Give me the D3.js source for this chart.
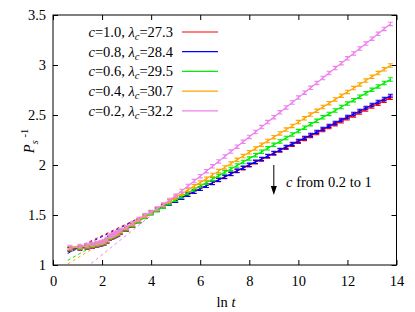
<!DOCTYPE html>
<html>
<head>
<meta charset="utf-8">
<script src="https://cdn.jsdelivr.net/npm/d3@7"></script>
<style>
  body { margin: 0; background: #fff; }
  svg text { font-family: "Liberation Serif", "Times New Roman", Times, "DejaVu Serif", serif; }
</style>
</head>
<body>
<div id="root"></div>
<script>
// ln t of each measured point (integer t at first, then log-spaced)
const lnT = [0.69, 1.10, 1.39, 1.61, 1.79, 1.95, 2.08, 2.20, 2.30, 2.40, 2.48, 2.56, 2.64,
  2.75, 3.00, 3.25, 3.50, 3.75, 4.00,
  4.25, 4.50, 4.75, 5.00, 5.25, 5.50, 5.75, 6.00, 6.25, 6.50, 6.75, 7.00, 7.25, 7.50, 7.75,
  8.00, 8.25, 8.50, 8.75, 9.00, 9.25, 9.50, 9.75, 10.00, 10.25, 10.50, 10.75, 11.00, 11.25,
  11.50, 11.75, 12.00, 12.25, 12.50, 12.75, 13.00, 13.25, 13.50, 13.75];

// P_s^-1 for each c
const yC10 = [1.155, 1.165, 1.175, 1.185, 1.195, 1.205, 1.215, 1.235, 1.265, 1.275, 1.285, 1.295, 1.305,
  1.325, 1.355, 1.395, 1.44, 1.485, 1.528,
  1.558, 1.587, 1.616, 1.646, 1.675, 1.704, 1.733, 1.763, 1.792, 1.821, 1.851, 1.880, 1.909, 1.939, 1.968,
  1.997, 2.027, 2.056, 2.085, 2.115, 2.144, 2.173, 2.203, 2.232, 2.261, 2.291, 2.320, 2.349, 2.379,
  2.408, 2.437, 2.467, 2.496, 2.525, 2.555, 2.584, 2.613, 2.643, 2.672];
const yC08 = [1.16, 1.17, 1.18, 1.19, 1.20, 1.21, 1.22, 1.24, 1.27, 1.28, 1.29, 1.30, 1.31,
  1.33, 1.36, 1.40, 1.44, 1.485, 1.523,
  1.553, 1.583, 1.613, 1.643, 1.672, 1.702, 1.732, 1.762, 1.792, 1.822, 1.852, 1.882, 1.912, 1.942, 1.972,
  2.002, 2.032, 2.061, 2.091, 2.121, 2.151, 2.181, 2.211, 2.241, 2.271, 2.301, 2.331, 2.361, 2.391,
  2.421, 2.450, 2.480, 2.510, 2.540, 2.570, 2.600, 2.630, 2.660, 2.690];
const yC06 = [1.165, 1.175, 1.185, 1.195, 1.205, 1.215, 1.225, 1.245, 1.275, 1.285, 1.295, 1.305, 1.315,
  1.335, 1.365, 1.40, 1.44, 1.48, 1.514,
  1.548, 1.583, 1.617, 1.652, 1.686, 1.720, 1.755, 1.789, 1.823, 1.858, 1.892, 1.927, 1.961, 1.995, 2.030,
  2.064, 2.098, 2.133, 2.167, 2.202, 2.236, 2.270, 2.305, 2.339, 2.373, 2.408, 2.442, 2.477, 2.511,
  2.545, 2.580, 2.614, 2.648, 2.683, 2.717, 2.752, 2.786, 2.820, 2.855];
const yC04 = [1.17, 1.18, 1.19, 1.20, 1.21, 1.22, 1.23, 1.25, 1.28, 1.29, 1.30, 1.31, 1.32,
  1.34, 1.37, 1.41, 1.45, 1.49, 1.524,
  1.561, 1.599, 1.637, 1.675, 1.712, 1.750, 1.788, 1.825, 1.863, 1.901, 1.939, 1.976, 2.014, 2.052, 2.089,
  2.127, 2.165, 2.203, 2.240, 2.278, 2.316, 2.354, 2.391, 2.429, 2.467, 2.504, 2.542, 2.580, 2.618,
  2.655, 2.693, 2.731, 2.769, 2.806, 2.844, 2.882, 2.919, 2.957, 2.995];
const yC02 = [1.18, 1.19, 1.20, 1.21, 1.22, 1.23, 1.24, 1.26, 1.29, 1.30, 1.31, 1.32, 1.33,
  1.35, 1.38, 1.42, 1.46, 1.50, 1.53,
  1.565, 1.605, 1.650, 1.692, 1.741, 1.790, 1.839, 1.888, 1.938, 1.987, 2.036, 2.085, 2.134, 2.183, 2.232,
  2.281, 2.330, 2.379, 2.429, 2.478, 2.527, 2.576, 2.625, 2.674, 2.723, 2.772, 2.821, 2.870, 2.920,
  2.969, 3.018, 3.067, 3.116, 3.165, 3.214, 3.263, 3.312, 3.361, 3.411];

const cLabels = ["1.0", "0.8", "0.6", "0.4", "0.2"];
const lambdaC = ["27.3", "28.4", "29.5", "30.7", "32.2"];
const colors = ["#ff0000", "#0000ff", "#00ee00", "#ffa500", "#ee82ee"];
// linear fits a + b ln t (dashed)
const fitA = [1.059, 1.044, 0.964, 0.920, 0.710];
const fitB = [0.1173, 0.1197, 0.1375, 0.1509, 0.1964];
const fitRange = [0.6, 13.75];
const errBar = 0.017;

const xTicks = [0, 2, 4, 6, 8, 10, 12, 14];
const yTicks = [1, 1.5, 2, 2.5, 3, 3.5];

const allY = [yC10, yC08, yC06, yC04, yC02];

const width = 415, height = 312;
const mLeft = 53, mRight = 396.5, mTop = 15, mBottom = 265;
const serif = '"Liberation Serif", "Times New Roman", Times, serif';

const svg = d3.select("#root").append("svg")
  .attr("width", width)
  .attr("height", height);

const x = d3.scaleLinear().domain([0, 14]).range([mLeft, mRight]);
const y = d3.scaleLinear().domain([1, 3.5]).range([mBottom, mTop]);

svg.append("clipPath").attr("id", "clip")
  .append("rect")
  .attr("x", mLeft).attr("y", mTop)
  .attr("width", mRight - mLeft).attr("height", mBottom - mTop);

const plot = svg.append("g").attr("clip-path", "url(#clip)");

// dashed fit lines go under the data
allY.forEach(function (vals, i) {
  plot.append("path")
    .datum(fitRange)
    .attr("fill", "none")
    .attr("stroke", colors[i])
    .attr("stroke-width", 1)
    .attr("stroke-dasharray", "3,3")
    .attr("d", d3.line().x(d => x(d)).y(d => y(fitA[i] + fitB[i] * d)));
});

// data with error bars, red first, violet last
allY.forEach(function (vals, i) {
  const pts = lnT.map((t, j) => ({ t: t, v: vals[j] }));
  const g = plot.append("g").attr("stroke", colors[i]).attr("fill", "none").attr("stroke-width", 1.1);
  g.append("path")
    .datum(pts)
    .attr("d", d3.line().x(d => x(d.t)).y(d => y(d.v)));
  g.selectAll(".eb")
    .data(pts)
    .join("path")
    .attr("class", "eb")
    .attr("d", function (d) {
      const cx = x(d.t), y1 = y(d.v - errBar), y2 = y(d.v + errBar);
      return `M${cx},${y1}V${y2}M${cx - 2.5},${y1}H${cx + 2.5}M${cx - 2.5},${y2}H${cx + 2.5}`;
    });
});

// axes, ticks pointing inward
svg.append("g").attr("transform", `translate(0,${mBottom})`)
  .call(d3.axisBottom(x).tickValues(xTicks).tickSize(-5).tickPadding(11).tickFormat(d3.format("d")));
svg.append("g").attr("transform", `translate(${mLeft},0)`)
  .call(d3.axisLeft(y).tickValues(yTicks).tickSize(-5).tickPadding(7).tickFormat(d => String(d)));
svg.append("g").attr("transform", `translate(0,${mTop})`)
  .call(d3.axisTop(x).tickValues(xTicks).tickSize(-5).tickFormat(""));
svg.append("g").attr("transform", `translate(${mRight},0)`)
  .call(d3.axisRight(y).tickValues(yTicks).tickSize(-5).tickFormat(""));

svg.selectAll(".domain").remove();
svg.selectAll(".tick line").attr("stroke", "#000");
svg.selectAll(".tick text")
  .attr("font-family", serif)
  .attr("font-size", 14.5)
  .attr("fill", "#000");

svg.append("rect")
  .attr("x", mLeft).attr("y", mTop)
  .attr("width", mRight - mLeft).attr("height", mBottom - mTop)
  .attr("fill", "none").attr("stroke", "#000").attr("stroke-width", 1);

// axis titles
const xt = svg.append("text")
  .attr("x", 226).attr("y", 307)
  .attr("text-anchor", "middle")
  .attr("font-family", serif)
  .attr("font-size", 14.5);
xt.append("tspan").text("ln ");
xt.append("tspan").attr("font-style", "italic").text("t");

const yt = svg.append("text")
  .attr("transform", "translate(34,141) rotate(-90)")
  .attr("text-anchor", "middle")
  .attr("font-family", serif)
  .attr("font-size", 14.5);
yt.append("tspan").attr("font-style", "italic").text("P");
yt.append("tspan").attr("font-style", "italic").attr("font-size", 10.5).attr("dy", 4).text("s");
yt.append("tspan").attr("font-size", 10.5).attr("dy", -10).text(" -1");

// legend
cLabels.forEach(function (c, i) {
  const ly = 32 + i * 19.7;
  const t = svg.append("text")
    .attr("x", 173).attr("y", ly + 5)
    .attr("text-anchor", "end")
    .attr("font-family", serif)
    .attr("font-size", 14.5);
  t.append("tspan").attr("font-style", "italic").text("c");
  t.append("tspan").text("=" + c + ", ");
  t.append("tspan").attr("font-style", "italic").text("λ");
  t.append("tspan").attr("font-style", "italic").attr("font-size", 10.5).attr("dy", 3).text("c");
  t.append("tspan").attr("dy", -3).text("=" + lambdaC[i]);
  svg.append("line")
    .attr("x1", 182).attr("x2", 218)
    .attr("y1", ly).attr("y2", ly)
    .attr("stroke", colors[i]).attr("stroke-width", 1.2);
});

// arrow annotation
const arrowX = 9, arrowTop = 2.0, arrowBottom = 1.7;
svg.append("line")
  .attr("x1", x(arrowX)).attr("x2", x(arrowX))
  .attr("y1", y(arrowTop)).attr("y2", y(arrowBottom) - 6)
  .attr("stroke", "#000").attr("stroke-width", 1);
svg.append("path")
  .attr("d", `M${x(arrowX) - 3},${y(arrowBottom) - 9}L${x(arrowX) + 3},${y(arrowBottom) - 9}L${x(arrowX)},${y(arrowBottom)}Z`)
  .attr("fill", "#000");
const at = svg.append("text")
  .attr("x", x(9.5)).attr("y", y(1.78))
  .attr("font-family", serif)
  .attr("font-size", 14.5);
at.append("tspan").attr("font-style", "italic").text("c");
at.append("tspan").text(" from 0.2 to 1");
</script>
</body>
</html>
